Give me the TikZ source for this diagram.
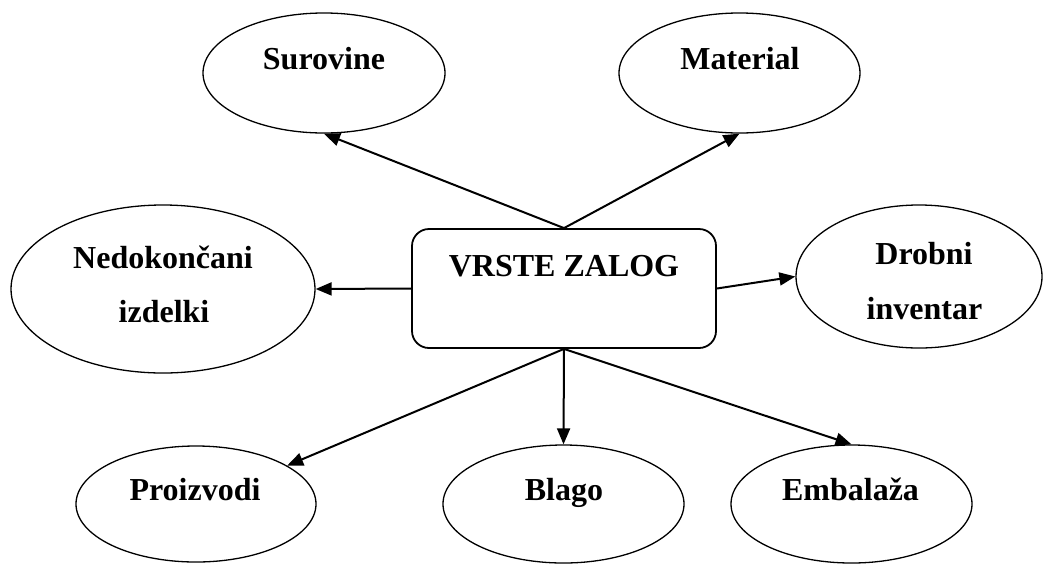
\documentclass[tikz,border=0pt]{standalone}
\usepackage{fontspec}
\setmainfont{Liberation Serif}
\usetikzlibrary{arrows.meta,shapes.geometric}
\begin{document}
\begin{tikzpicture}[x=1pt,y=-1pt,
  oval/.style={draw, ellipse, line width=1.3pt, inner sep=0pt},
  mainbox/.style={draw, rectangle, rounded corners=17pt, line width=1.8pt, inner sep=0pt, minimum width=304pt, minimum height=119pt},
  lbl/.style={font=\fontsize{32}{38}\selectfont\bfseries, inner sep=0pt, anchor=base},
  arr/.style={-{Triangle[length=16pt,width=13pt]}, line width=2pt}]
\useasboundingbox (0,0) rectangle (1043,563);
% ellipses
\node[oval, minimum width=242pt, minimum height=120pt] (sur) at (324,73) {};
\node[oval, minimum width=241pt, minimum height=120pt] (mat) at (739.5,73) {};
\node[oval, minimum width=304pt, minimum height=168pt] (ned) at (163,289) {};
\node[oval, minimum width=246pt, minimum height=143pt] (dro) at (919,276.5) {};
\node[oval, minimum width=240pt, minimum height=116pt] (pro) at (196,504) {};
\node[oval, minimum width=241pt, minimum height=118pt] (bla) at (563.5,504) {};
\node[oval, minimum width=241pt, minimum height=118pt] (emb) at (851.5,504) {};
% central box
\node[mainbox] (box) at (564,288.5) {};
% texts
\node[lbl] (tsur) at (324,69) {Surovine};
\node[lbl] (tmat) at (740,69) {Material};
\node[lbl] (tned1) at (163,268) {Nedokončani};
\node[lbl] (tned2) at (164,322) {izdelki};
\node[lbl] (tbox) at (564,276) {VRSTE ZALOG};
\node[lbl] (tdro1) at (924,264) {Drobni};
\node[lbl] (tdro2) at (924.5,319) {inventar};
\node[lbl] (tpro) at (195,500) {Proizvodi};
\node[lbl] (tbla) at (564,500) {Blago};
\node[lbl] (temb) at (850.5,500) {Embalaža};
% arrows
\draw[arr] (box.north) -- (sur.south);
\draw[arr] (box.north) -- (mat.south);
\draw[arr] (box.west) -- (ned.east);
\draw[arr] (box.east) -- (dro.west);
\draw[arr] (box.south) -- (pro);
\draw[arr] (box.south) -- (bla.north);
\draw[arr] (box.south) -- (emb.north);
\end{tikzpicture}
\end{document}
